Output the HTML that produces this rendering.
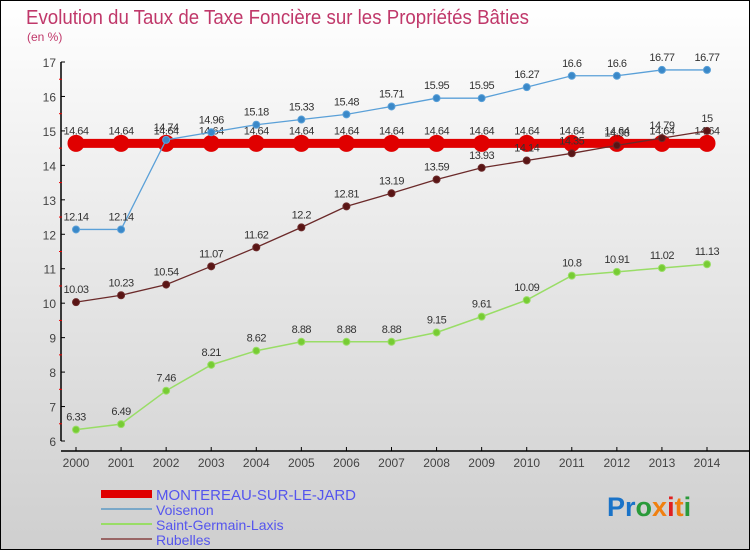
<!DOCTYPE html>
<html><head><meta charset="utf-8">
<style>
body{margin:0;}
#wrap{width:748px;height:548px;border:1px solid #000;background:linear-gradient(#ffffff,#f2f2f2 25%,#cfcfcf);position:relative;overflow:hidden;font-family:"Liberation Sans",sans-serif;}
svg{position:absolute;left:0;top:0;}
</style></head><body>
<div id="wrap">
<svg id="svg" width="750" height="550">
<text x="25" y="23" font-size="20" fill="#c0386a" textLength="503" lengthAdjust="spacingAndGlyphs">Evolution du Taux de Taxe Foncière sur les Propriétés Bâties</text>
<text x="26" y="40" font-size="12" fill="#c0386a">(en %)</text>
<text x="606" y="515" font-size="27" font-family="Liberation Sans" font-weight="bold"><tspan fill="#1a73c8">Pr</tspan><tspan fill="#2a9a3a">o</tspan><tspan fill="#f08010">x</tspan><tspan fill="#e02020">i</tspan><tspan fill="#f08010">t</tspan><tspan fill="#2a9a3a">i</tspan></text>
</svg>
</div>
<script>
const years=[2000,2001,2002,2003,2004,2005,2006,2007,2008,2009,2010,2011,2012,2013,2014];
const montereau=[14.64,14.64,14.64,14.64,14.64,14.64,14.64,14.64,14.64,14.64,14.64,14.64,14.64,14.64,14.64];
const voisenon=[12.14,12.14,14.74,14.96,15.18,15.33,15.48,15.71,15.95,15.95,16.27,16.6,16.6,16.77,16.77];
const saintGermain=[6.33,6.49,7.46,8.21,8.62,8.88,8.88,8.88,9.15,9.61,10.09,10.8,10.91,11.02,11.13];
const rubelles=[10.03,10.23,10.54,11.07,11.62,12.2,12.81,13.19,13.59,13.93,14.14,14.35,14.58,14.79,15];
const yTicks=[6,7,8,9,10,11,12,13,14,15,16,17];
const NS="http://www.w3.org/2000/svg";
const svg=document.getElementById('svg');
const xS=i=>75+i*(706-75)/14;
const yS=v=>440-(v-6)*(440-61)/11;
function mk(t,a,p){const e=document.createElementNS(NS,t);for(const k in a)e.setAttribute(k,a[k]);(p||svg).appendChild(e);return e;}
let ax=mk('line',{x1:60,y1:yS(17),x2:60,y2:yS(6),stroke:'#000','stroke-width':1.5});


let xa=mk('line',{x1:60,y1:450,x2:750,y2:450,stroke:'#000','stroke-width':1.5});


yTicks.forEach(v=>{
 mk('line',{x1:60,y1:yS(v),x2:64,y2:yS(v),stroke:'#000'});
 if(v<17) mk('line',{x1:58,y1:yS(v+0.5),x2:61,y2:yS(v+0.5),stroke:'#e00'});
 const t=mk('text',{x:55,y:yS(v)+5,'text-anchor':'end','font-size':12,fill:'#444'});
 t.textContent=v;
 
 
});
years.forEach((y,i)=>{
 mk('line',{x1:xS(i),y1:446,x2:xS(i),y2:450,stroke:'#000'});
 const t=mk('text',{x:xS(i),y:466,'text-anchor':'middle','font-size':12,fill:'#444'});
 t.textContent=y;
 
 
});
function series(data,color,dot,lw,r,name){
 const g=mk('g',{});
 
 
 mk('polyline',{points:data.map((v,i)=>xS(i)+','+yS(v)).join(' '),fill:'none',stroke:color,'stroke-width':lw},g);
 data.forEach((v,i)=>{
  const c=mk('circle',{cx:xS(i),cy:yS(v),r:r,fill:dot,stroke:color,'stroke-width':1},g);
  
  
  const t=mk('text',{x:xS(i),y:yS(v)-9,'text-anchor':'middle','font-size':11,fill:'#333','letter-spacing':'-0.5'},g);
  t.textContent=v;
  
  
 });
}
series(montereau,'#e00000','#e00000',9,8,'montereau');
series(voisenon,'#5aa0d8','#3a88c8',1.3,3.5,'voisenon');
series(saintGermain,'#99dd66','#77cc33',1.5,3.5,'saint-germain');
series(rubelles,'#6b2a2a','#5a1515',1.3,3.5,'rubelles');
const leg=[['MONTEREAU-SUR-LE-JARD','#e00000',8],['Voisenon','#7aa8c8',2],['Saint-Germain-Laxis','#99dd66',2],['Rubelles','#996666',2]];
leg.forEach((l,i)=>{
 const y=493+i*15;
 const g=mk('g',{});
 
 
 mk('line',{x1:100,y1:y,x2:151,y2:y,stroke:l[1],'stroke-width':l[2]},g);
 const t=mk('text',{x:155,y:y+6,'font-size':i==0?15:14,fill:'#5555ee'},g);
 t.textContent=l[0];
});
</script>
</body></html>
